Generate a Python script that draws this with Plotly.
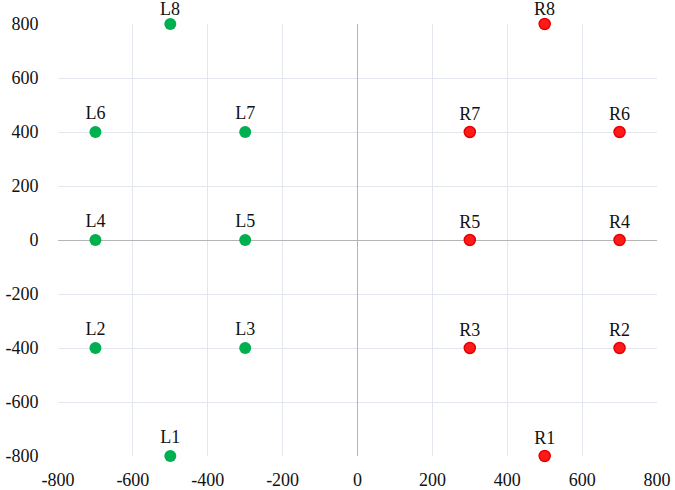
import plotly.graph_objects as go

left_labels = ["L1", "L2", "L3", "L4", "L5", "L6", "L7", "L8"]
left_x = [-500, -700, -300, -700, -300, -700, -300, -500]
left_y = [-800, -400, -400, 0, 0, 400, 400, 800]

right_labels = ["R1", "R2", "R3", "R4", "R5", "R6", "R7", "R8"]
right_x = [500, 700, 300, 700, 300, 700, 300, 500]
right_y = [-800, -400, -400, 0, 0, 400, 400, 800]

tick_vals = [-800, -600, -400, -200, 0, 200, 400, 600, 800]
tick_text = ["-800", "-600", "-400", "-200", "0", "200", "400", "600", "800"]

label_font = dict(family="Liberation Serif", size=18, color="#111")
y_top = max(tick_vals)

fig = go.Figure()
for labels, xs, ys, mk in [
    (left_labels, left_x, left_y, dict(size=12, color="#00b050")),
    (right_labels, right_x, right_y,
     dict(size=11, color="#ff1a1a", line=dict(width=1.5, color="#e60000"))),
]:
    # labels of points at the top edge are placed as annotations so they stay inside the page
    texts = [t if y < y_top else "" for t, y in zip(labels, ys)]
    fig.add_trace(go.Scatter(
        x=xs, y=ys, mode="markers+text", text=texts,
        textposition="top center", cliponaxis=False,
        textfont=label_font, marker=mk,
    ))
    for t, x, y in zip(labels, xs, ys):
        if y >= y_top:
            fig.add_annotation(x=x, y=y, text=t, showarrow=False,
                               yanchor="bottom", yshift=3, font=label_font)

axis_common = dict(
    range=[-800, 800], tickvals=tick_vals, ticktext=tick_text,
    showgrid=True, gridcolor="#e3e6ee", gridwidth=1,
    zeroline=True, zerolinecolor="#b5b5b5", zerolinewidth=1,
    showline=False, ticks="outside", tickcolor="rgba(0,0,0,0)",
    automargin=False,
    tickfont=dict(family="Liberation Serif", size=18, color="#111"),
)
fig.update_xaxes(**axis_common, ticklen=7)
fig.update_yaxes(**axis_common, ticklen=15)

fig.update_layout(
    width=675, height=490,
    margin=dict(l=58, r=18, t=24, b=34),
    plot_bgcolor="white", paper_bgcolor="white",
    showlegend=False,
)
fig.write_html("out.html", config={"displayModeBar": False},
               post_script="document.body.style.margin='0';")
